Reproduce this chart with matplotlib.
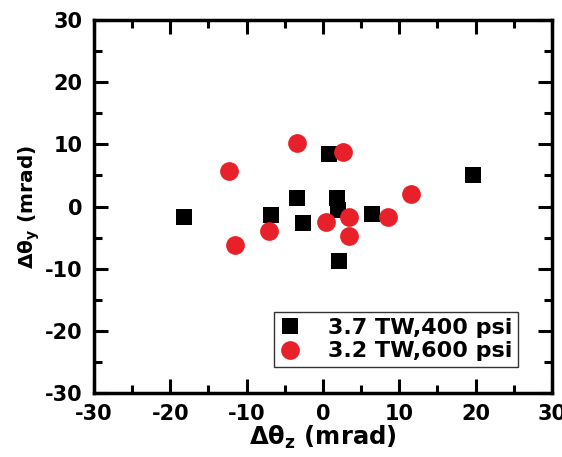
import numpy as np
import matplotlib
matplotlib.use("Agg")
import matplotlib.pyplot as plt

plt.rcParams['font.family'] = ['DejaVu Sans']
plt.rcParams['font.weight'] = 'bold'
plt.rcParams['mathtext.fontset'] = 'custom'
plt.rcParams['mathtext.bf'] = 'DejaVu Sans:bold'
plt.rcParams['mathtext.rm'] = 'DejaVu Sans:bold'
plt.rcParams['mathtext.default'] = 'bf'
plt.rcParams['axes.unicode_minus'] = False

# 3.7 TW, 400 psi (black squares)
sq_z = [-18.2, -6.8, -3.4, -2.6, 0.8, 1.8, 2.0, 6.5, 2.1, 19.7]
sq_y = [-1.7, -1.3, 1.45, -2.7, 8.4, 1.45, -0.5, -1.2, -8.8, 5.05]

# 3.2 TW, 600 psi (red circles)
ci_z = [-12.3, -3.4, 2.6, 11.5, 8.5, 3.4, 0.4, 3.4, -7.1, -11.5]
ci_y = [5.8, 10.3, 8.8, 2.05, -1.7, -1.7, -2.5, -4.8, -4.0, -6.2]

fig = plt.figure(figsize=(5.62, 4.57), dpi=100)
ax = fig.add_axes([0.167, 0.14, 0.815, 0.816])

ax.plot(sq_z, sq_y, 's', color='black', markersize=12, markeredgewidth=0,
        linestyle='none', label='3.7 TW,400 psi', zorder=3)
ax.plot(ci_z, ci_y, 'o', color='#e8202a', markersize=13.5, markeredgewidth=0,
        linestyle='none', label='3.2 TW,600 psi', zorder=4)

ax.set_xlim(-30, 30)
ax.set_ylim(-30, 30)
ax.set_xticks(np.arange(-30, 31, 10))
ax.set_yticks(np.arange(-30, 31, 10))
ax.set_xticks(np.arange(-25, 30, 10), minor=True)
ax.set_yticks(np.arange(-25, 30, 10), minor=True)
ax.tick_params(which='both', direction='in', top=True, right=True,
               labelsize=15, width=2.2, pad=8)
ax.tick_params(which='major', length=10)
ax.tick_params(which='minor', length=5.5)
for sp in ax.spines.values():
    sp.set_linewidth(2.5)

ax.set_xlabel('Δθ$_z$ (mrad)', fontsize=17.5, fontweight='bold', labelpad=0)
ax.set_ylabel('Δθ$_y$ (mrad)', fontsize=14.5, fontweight='bold', labelpad=2)

leg = ax.legend(loc='lower right', bbox_to_anchor=(0.926, 0.07),
                prop={'size': 16, 'weight': 'bold'}, frameon=True,
                fancybox=False, handletextpad=1.2, borderpad=0.25,
                labelspacing=0.15, handlelength=1.0, borderaxespad=0)
leg.get_frame().set_edgecolor('black')
leg.get_frame().set_linewidth(1.0)

fig.savefig('out.png', dpi=100)
